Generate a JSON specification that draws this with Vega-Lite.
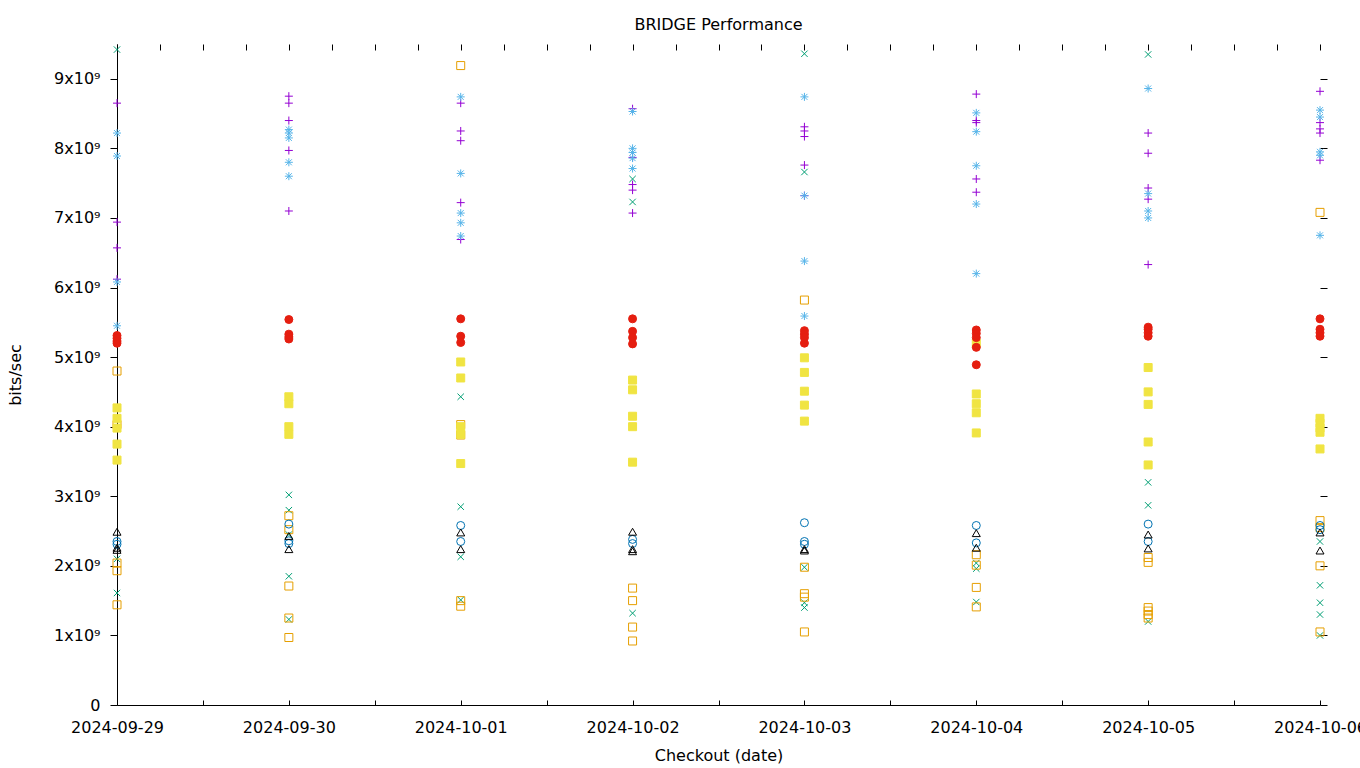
{
  "$schema": "https://vega.github.io/schema/vega-lite/v6.json",
  "width": 1203,
  "height": 661,
  "autosize": "none",
  "padding": {"left": 117, "top": 44, "right": 40, "bottom": 63},
  "background": "white",
  "config": {
    "font": "DejaVu Sans",
    "view": {"stroke": null},
    "axis": {"labelFont": "DejaVu Sans", "titleFont": "DejaVu Sans", "labelFontSize": 16, "titleFontSize": 16, "labelColor": "#000", "titleColor": "#000", "titleFontWeight": "normal", "domainColor": "#000", "tickColor": "#000", "grid": false}
  },
  "title": {"text": "BRIDGE Performance", "fontSize": 16, "fontWeight": "normal", "font": "DejaVu Sans", "color": "#000", "offset": 11},
  "data": {"values": [
    {"d":"2024-09-29","s":"s1","v":8.65e9},{"d":"2024-09-29","s":"s1","v":6.94e9},{"d":"2024-09-29","s":"s1","v":6.57e9},{"d":"2024-09-29","s":"s1","v":6.12e9},
    {"d":"2024-09-29","s":"s2","v":9.42e9},{"d":"2024-09-29","s":"s2","v":2.1e9},{"d":"2024-09-29","s":"s2","v":1.61e9},
    {"d":"2024-09-29","s":"s3","v":8.22e9},{"d":"2024-09-29","s":"s3","v":7.89e9},{"d":"2024-09-29","s":"s3","v":6.08e9},{"d":"2024-09-29","s":"s3","v":5.45e9},
    {"d":"2024-09-29","s":"s4","v":4.8e9},{"d":"2024-09-29","s":"s4","v":4.03e9},{"d":"2024-09-29","s":"s4","v":2.04e9},{"d":"2024-09-29","s":"s4","v":1.93e9},{"d":"2024-09-29","s":"s4","v":1.44e9},
    {"d":"2024-09-29","s":"s5","v":4.27e9},{"d":"2024-09-29","s":"s5","v":4.12e9},{"d":"2024-09-29","s":"s5","v":3.98e9},{"d":"2024-09-29","s":"s5","v":3.75e9},{"d":"2024-09-29","s":"s5","v":3.52e9},
    {"d":"2024-09-29","s":"s6","v":2.35e9},{"d":"2024-09-29","s":"s6","v":2.31e9},
    {"d":"2024-09-29","s":"s7","v":5.31e9},{"d":"2024-09-29","s":"s7","v":5.27e9},{"d":"2024-09-29","s":"s7","v":5.23e9},{"d":"2024-09-29","s":"s7","v":5.2e9},
    {"d":"2024-09-29","s":"s8","v":2.49e9},{"d":"2024-09-29","s":"s8","v":2.26e9},{"d":"2024-09-29","s":"s8","v":2.23e9},

    {"d":"2024-09-30","s":"s1","v":8.75e9},{"d":"2024-09-30","s":"s1","v":8.65e9},{"d":"2024-09-30","s":"s1","v":8.4e9},{"d":"2024-09-30","s":"s1","v":7.97e9},{"d":"2024-09-30","s":"s1","v":7.1e9},
    {"d":"2024-09-30","s":"s2","v":3.02e9},{"d":"2024-09-30","s":"s2","v":2.8e9},{"d":"2024-09-30","s":"s2","v":2.45e9},{"d":"2024-09-30","s":"s2","v":1.85e9},{"d":"2024-09-30","s":"s2","v":1.23e9},
    {"d":"2024-09-30","s":"s3","v":8.27e9},{"d":"2024-09-30","s":"s3","v":8.22e9},{"d":"2024-09-30","s":"s3","v":8.15e9},{"d":"2024-09-30","s":"s3","v":7.8e9},{"d":"2024-09-30","s":"s3","v":7.6e9},
    {"d":"2024-09-30","s":"s4","v":2.72e9},{"d":"2024-09-30","s":"s4","v":2.52e9},{"d":"2024-09-30","s":"s4","v":1.71e9},{"d":"2024-09-30","s":"s4","v":1.25e9},{"d":"2024-09-30","s":"s4","v":0.97e9},
    {"d":"2024-09-30","s":"s5","v":4.43e9},{"d":"2024-09-30","s":"s5","v":4.33e9},{"d":"2024-09-30","s":"s5","v":4.0e9},{"d":"2024-09-30","s":"s5","v":3.89e9},
    {"d":"2024-09-30","s":"s6","v":2.6e9},{"d":"2024-09-30","s":"s6","v":2.36e9},{"d":"2024-09-30","s":"s6","v":2.32e9},
    {"d":"2024-09-30","s":"s7","v":5.54e9},{"d":"2024-09-30","s":"s7","v":5.33e9},{"d":"2024-09-30","s":"s7","v":5.29e9},{"d":"2024-09-30","s":"s7","v":5.26e9},
    {"d":"2024-09-30","s":"s8","v":2.43e9},{"d":"2024-09-30","s":"s8","v":2.24e9},

    {"d":"2024-10-01","s":"s1","v":8.65e9},{"d":"2024-10-01","s":"s1","v":8.25e9},{"d":"2024-10-01","s":"s1","v":8.11e9},{"d":"2024-10-01","s":"s1","v":7.22e9},{"d":"2024-10-01","s":"s1","v":6.69e9},
    {"d":"2024-10-01","s":"s2","v":4.43e9},{"d":"2024-10-01","s":"s2","v":2.85e9},{"d":"2024-10-01","s":"s2","v":2.13e9},{"d":"2024-10-01","s":"s2","v":1.51e9},
    {"d":"2024-10-01","s":"s3","v":8.74e9},{"d":"2024-10-01","s":"s3","v":7.64e9},{"d":"2024-10-01","s":"s3","v":7.07e9},{"d":"2024-10-01","s":"s3","v":6.93e9},{"d":"2024-10-01","s":"s3","v":6.74e9},
    {"d":"2024-10-01","s":"s4","v":9.19e9},{"d":"2024-10-01","s":"s4","v":4.03e9},{"d":"2024-10-01","s":"s4","v":3.88e9},{"d":"2024-10-01","s":"s4","v":1.5e9},{"d":"2024-10-01","s":"s4","v":1.42e9},
    {"d":"2024-10-01","s":"s5","v":4.93e9},{"d":"2024-10-01","s":"s5","v":4.7e9},{"d":"2024-10-01","s":"s5","v":4.0e9},{"d":"2024-10-01","s":"s5","v":3.89e9},{"d":"2024-10-01","s":"s5","v":3.47e9},
    {"d":"2024-10-01","s":"s6","v":2.58e9},{"d":"2024-10-01","s":"s6","v":2.35e9},
    {"d":"2024-10-01","s":"s7","v":5.55e9},{"d":"2024-10-01","s":"s7","v":5.3e9},{"d":"2024-10-01","s":"s7","v":5.21e9},
    {"d":"2024-10-01","s":"s8","v":2.48e9},{"d":"2024-10-01","s":"s8","v":2.24e9},

    {"d":"2024-10-02","s":"s1","v":8.57e9},{"d":"2024-10-02","s":"s1","v":7.87e9},{"d":"2024-10-02","s":"s1","v":7.48e9},{"d":"2024-10-02","s":"s1","v":7.4e9},{"d":"2024-10-02","s":"s1","v":7.07e9},
    {"d":"2024-10-02","s":"s2","v":7.56e9},{"d":"2024-10-02","s":"s2","v":7.23e9},{"d":"2024-10-02","s":"s2","v":1.32e9},
    {"d":"2024-10-02","s":"s3","v":8.53e9},{"d":"2024-10-02","s":"s3","v":8.0e9},{"d":"2024-10-02","s":"s3","v":7.94e9},{"d":"2024-10-02","s":"s3","v":7.86e9},{"d":"2024-10-02","s":"s3","v":7.71e9},
    {"d":"2024-10-02","s":"s4","v":1.68e9},{"d":"2024-10-02","s":"s4","v":1.5e9},{"d":"2024-10-02","s":"s4","v":1.12e9},{"d":"2024-10-02","s":"s4","v":0.92e9},
    {"d":"2024-10-02","s":"s5","v":4.67e9},{"d":"2024-10-02","s":"s5","v":4.53e9},{"d":"2024-10-02","s":"s5","v":4.15e9},{"d":"2024-10-02","s":"s5","v":4.0e9},{"d":"2024-10-02","s":"s5","v":3.49e9},
    {"d":"2024-10-02","s":"s6","v":2.38e9},{"d":"2024-10-02","s":"s6","v":2.32e9},
    {"d":"2024-10-02","s":"s7","v":5.55e9},{"d":"2024-10-02","s":"s7","v":5.37e9},{"d":"2024-10-02","s":"s7","v":5.28e9},{"d":"2024-10-02","s":"s7","v":5.19e9},
    {"d":"2024-10-02","s":"s8","v":2.49e9},{"d":"2024-10-02","s":"s8","v":2.24e9},{"d":"2024-10-02","s":"s8","v":2.21e9},

    {"d":"2024-10-03","s":"s1","v":8.31e9},{"d":"2024-10-03","s":"s1","v":8.25e9},{"d":"2024-10-03","s":"s1","v":8.17e9},{"d":"2024-10-03","s":"s1","v":7.76e9},{"d":"2024-10-03","s":"s1","v":7.32e9},
    {"d":"2024-10-03","s":"s2","v":9.36e9},{"d":"2024-10-03","s":"s2","v":7.66e9},{"d":"2024-10-03","s":"s2","v":1.98e9},{"d":"2024-10-03","s":"s2","v":1.47e9},{"d":"2024-10-03","s":"s2","v":1.4e9},
    {"d":"2024-10-03","s":"s3","v":8.74e9},{"d":"2024-10-03","s":"s3","v":7.32e9},{"d":"2024-10-03","s":"s3","v":6.38e9},{"d":"2024-10-03","s":"s3","v":5.59e9},
    {"d":"2024-10-03","s":"s4","v":5.82e9},{"d":"2024-10-03","s":"s4","v":1.98e9},{"d":"2024-10-03","s":"s4","v":1.6e9},{"d":"2024-10-03","s":"s4","v":1.55e9},{"d":"2024-10-03","s":"s4","v":1.05e9},
    {"d":"2024-10-03","s":"s5","v":4.99e9},{"d":"2024-10-03","s":"s5","v":4.78e9},{"d":"2024-10-03","s":"s5","v":4.51e9},{"d":"2024-10-03","s":"s5","v":4.31e9},{"d":"2024-10-03","s":"s5","v":4.08e9},
    {"d":"2024-10-03","s":"s6","v":2.62e9},{"d":"2024-10-03","s":"s6","v":2.35e9},{"d":"2024-10-03","s":"s6","v":2.31e9},
    {"d":"2024-10-03","s":"s7","v":5.38e9},{"d":"2024-10-03","s":"s7","v":5.33e9},{"d":"2024-10-03","s":"s7","v":5.28e9},{"d":"2024-10-03","s":"s7","v":5.2e9},
    {"d":"2024-10-03","s":"s8","v":2.24e9},{"d":"2024-10-03","s":"s8","v":2.22e9},

    {"d":"2024-10-04","s":"s1","v":8.78e9},{"d":"2024-10-04","s":"s1","v":8.4e9},{"d":"2024-10-04","s":"s1","v":8.37e9},{"d":"2024-10-04","s":"s1","v":7.56e9},{"d":"2024-10-04","s":"s1","v":7.37e9},
    {"d":"2024-10-04","s":"s2","v":2.04e9},{"d":"2024-10-04","s":"s2","v":1.96e9},{"d":"2024-10-04","s":"s2","v":1.48e9},
    {"d":"2024-10-04","s":"s3","v":8.51e9},{"d":"2024-10-04","s":"s3","v":8.24e9},{"d":"2024-10-04","s":"s3","v":7.75e9},{"d":"2024-10-04","s":"s3","v":7.2e9},{"d":"2024-10-04","s":"s3","v":6.2e9},
    {"d":"2024-10-04","s":"s4","v":2.16e9},{"d":"2024-10-04","s":"s4","v":2.01e9},{"d":"2024-10-04","s":"s4","v":1.69e9},{"d":"2024-10-04","s":"s4","v":1.41e9},
    {"d":"2024-10-04","s":"s5","v":5.2e9},{"d":"2024-10-04","s":"s5","v":4.47e9},{"d":"2024-10-04","s":"s5","v":4.33e9},{"d":"2024-10-04","s":"s5","v":4.2e9},{"d":"2024-10-04","s":"s5","v":3.91e9},
    {"d":"2024-10-04","s":"s6","v":2.58e9},{"d":"2024-10-04","s":"s6","v":2.33e9},
    {"d":"2024-10-04","s":"s7","v":5.39e9},{"d":"2024-10-04","s":"s7","v":5.34e9},{"d":"2024-10-04","s":"s7","v":5.28e9},{"d":"2024-10-04","s":"s7","v":5.14e9},{"d":"2024-10-04","s":"s7","v":4.89e9},
    {"d":"2024-10-04","s":"s8","v":2.47e9},{"d":"2024-10-04","s":"s8","v":2.26e9},

    {"d":"2024-10-05","s":"s1","v":8.22e9},{"d":"2024-10-05","s":"s1","v":7.93e9},{"d":"2024-10-05","s":"s1","v":7.43e9},{"d":"2024-10-05","s":"s1","v":7.27e9},{"d":"2024-10-05","s":"s1","v":6.33e9},
    {"d":"2024-10-05","s":"s2","v":9.35e9},{"d":"2024-10-05","s":"s2","v":3.2e9},{"d":"2024-10-05","s":"s2","v":2.87e9},{"d":"2024-10-05","s":"s2","v":1.2e9},
    {"d":"2024-10-05","s":"s3","v":8.86e9},{"d":"2024-10-05","s":"s3","v":7.35e9},{"d":"2024-10-05","s":"s3","v":7.1e9},{"d":"2024-10-05","s":"s3","v":7.0e9},
    {"d":"2024-10-05","s":"s4","v":2.12e9},{"d":"2024-10-05","s":"s4","v":2.05e9},{"d":"2024-10-05","s":"s4","v":1.4e9},{"d":"2024-10-05","s":"s4","v":1.35e9},{"d":"2024-10-05","s":"s4","v":1.3e9},{"d":"2024-10-05","s":"s4","v":1.25e9},
    {"d":"2024-10-05","s":"s5","v":4.85e9},{"d":"2024-10-05","s":"s5","v":4.5e9},{"d":"2024-10-05","s":"s5","v":4.32e9},{"d":"2024-10-05","s":"s5","v":3.78e9},{"d":"2024-10-05","s":"s5","v":3.45e9},
    {"d":"2024-10-05","s":"s6","v":2.6e9},{"d":"2024-10-05","s":"s6","v":2.35e9},
    {"d":"2024-10-05","s":"s7","v":5.43e9},{"d":"2024-10-05","s":"s7","v":5.4e9},{"d":"2024-10-05","s":"s7","v":5.35e9},{"d":"2024-10-05","s":"s7","v":5.3e9},
    {"d":"2024-10-05","s":"s8","v":2.45e9},{"d":"2024-10-05","s":"s8","v":2.25e9},

    {"d":"2024-10-06","s":"s1","v":8.82e9},{"d":"2024-10-06","s":"s1","v":8.37e9},{"d":"2024-10-06","s":"s1","v":8.28e9},{"d":"2024-10-06","s":"s1","v":8.22e9},{"d":"2024-10-06","s":"s1","v":7.83e9},
    {"d":"2024-10-06","s":"s2","v":2.35e9},{"d":"2024-10-06","s":"s2","v":1.72e9},{"d":"2024-10-06","s":"s2","v":1.47e9},{"d":"2024-10-06","s":"s2","v":1.3e9},{"d":"2024-10-06","s":"s2","v":1.0e9},
    {"d":"2024-10-06","s":"s3","v":8.55e9},{"d":"2024-10-06","s":"s3","v":8.45e9},{"d":"2024-10-06","s":"s3","v":7.95e9},{"d":"2024-10-06","s":"s3","v":7.9e9},{"d":"2024-10-06","s":"s3","v":6.75e9},
    {"d":"2024-10-06","s":"s4","v":7.08e9},{"d":"2024-10-06","s":"s4","v":2.65e9},{"d":"2024-10-06","s":"s4","v":2.55e9},{"d":"2024-10-06","s":"s4","v":2.0e9},{"d":"2024-10-06","s":"s4","v":1.05e9},
    {"d":"2024-10-06","s":"s5","v":4.12e9},{"d":"2024-10-06","s":"s5","v":4.05e9},{"d":"2024-10-06","s":"s5","v":3.98e9},{"d":"2024-10-06","s":"s5","v":3.92e9},{"d":"2024-10-06","s":"s5","v":3.68e9},
    {"d":"2024-10-06","s":"s6","v":2.58e9},{"d":"2024-10-06","s":"s6","v":2.52e9},
    {"d":"2024-10-06","s":"s7","v":5.55e9},{"d":"2024-10-06","s":"s7","v":5.4e9},{"d":"2024-10-06","s":"s7","v":5.35e9},{"d":"2024-10-06","s":"s7","v":5.3e9},
    {"d":"2024-10-06","s":"s8","v":2.48e9},{"d":"2024-10-06","s":"s8","v":2.22e9}
  ]},
  "layer": [
    {
      "mark": {"type": "point", "opacity": 1, "fillOpacity": 1, "strokeWidth": 1, "size": 64},
      "encoding": {
        "x": {"field": "d", "type": "temporal",
          "scale": {"type": "utc", "domain": [1727568000000, 1728172800000], "nice": false},
          "axis": {"orient": "bottom", "title": "Checkout (date)",
            "values": [1727568000000, 1727611200000, 1727654400000, 1727697600000, 1727740800000, 1727784000000, 1727827200000, 1727870400000, 1727913600000, 1727956800000, 1728000000000, 1728043200000, 1728086400000, 1728129600000, 1728172800000],
            "labelExpr": "utchours(datum.value) == 0 ? utcFormat(datum.value, '%Y-%m-%d') : ''", "labelFlush": false, "labelOverlap": false, "tickSize": -5, "labelPadding": 19, "titlePadding": 12}},
        "y": {"field": "v", "type": "quantitative",
          "scale": {"domain": [0, 9500000000], "nice": false, "zero": true},
          "axis": {"orient": "left", "title": "bits/sec", "values": [0, 1000000000, 2000000000, 3000000000, 4000000000, 5000000000, 6000000000, 7000000000, 8000000000, 9000000000], "labelExpr": "datum.value == 0 ? '0' : format(datum.value / 1e9, 'd') + 'x10\u2079'", "tickSize": 7, "labelPadding": 10, "titlePadding": 30}},
        "shape": {"field": "s", "type": "nominal", "legend": null,
          "scale": {"domain": ["s1","s2","s3","s4","s5","s6","s7","s8"],
            "range": ["M-1,0H1M0,-1V1", "M-0.8,-0.8L0.8,0.8M-0.8,0.8L0.8,-0.8", "M-1,0H1M0,-1V1M-0.75,-0.75L0.75,0.75M-0.75,0.75L0.75,-0.75", "square", "square", "circle", "circle", "triangle-up"]}},
        "stroke": {"field": "s", "type": "nominal", "legend": null,
          "scale": {"domain": ["s1","s2","s3","s4","s5","s6","s7","s8"],
            "range": ["#9400D3", "#009E73", "#56B4E9", "#E69F00", "#F0E442", "#0072B2", "#E51E10", "#000000"]}},
        "fill": {"field": "s", "type": "nominal", "legend": null,
          "scale": {"domain": ["s1","s2","s3","s4","s5","s6","s7","s8"],
            "range": ["transparent", "transparent", "transparent", "transparent", "#F0E442", "transparent", "#E51E10", "transparent"]}}
      }
    },
    {
      "mark": {"type": "point", "opacity": 0},
      "encoding": {
        "x": {"field": "d", "type": "temporal",
          "axis": {"orient": "top", "title": null, "labels": false, "domain": false,
            "values": [1727568000000, 1727589600000, 1727611200000, 1727632800000, 1727654400000, 1727676000000, 1727697600000, 1727719200000, 1727740800000, 1727762400000, 1727784000000, 1727805600000, 1727827200000, 1727848800000, 1727870400000, 1727892000000, 1727913600000, 1727935200000, 1727956800000, 1727978400000, 1728000000000, 1728021600000, 1728043200000, 1728064800000, 1728086400000, 1728108000000, 1728129600000, 1728151200000, 1728172800000],
            "tickSize": -6}},
        "y": {"field": "v", "type": "quantitative",
          "axis": {"orient": "right", "title": null, "labels": false, "domain": false, "values": [0, 1000000000, 2000000000, 3000000000, 4000000000, 5000000000, 6000000000, 7000000000, 8000000000, 9000000000], "tickSize": 7}}
      }
    }
  ],
  "resolve": {"axis": {"x": "independent", "y": "independent"}}
}
